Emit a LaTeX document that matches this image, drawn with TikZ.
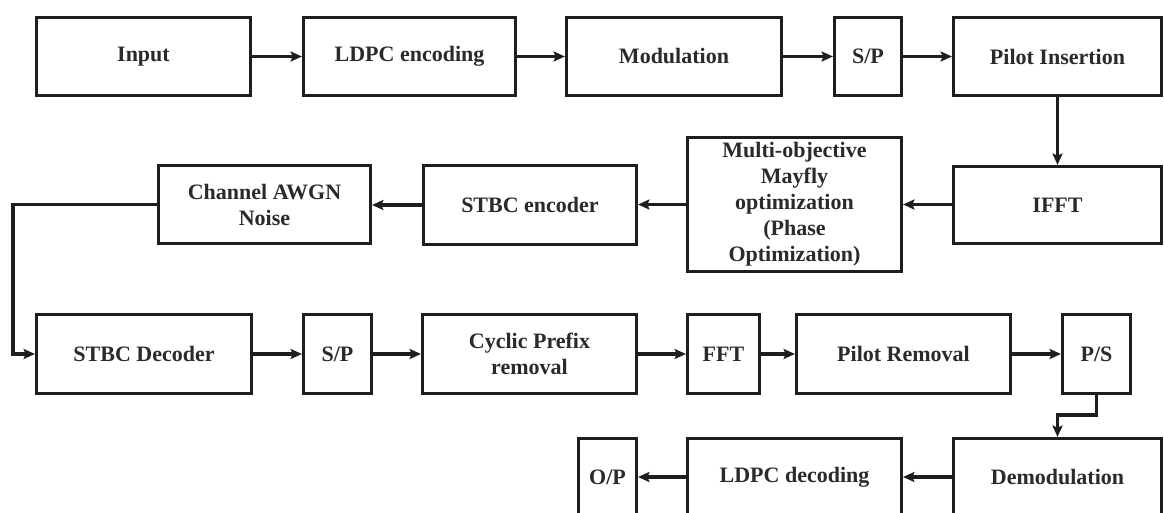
\documentclass[tikz,border=0pt]{standalone}
\usepackage{fontspec}
\setmainfont{Liberation Serif}
\usetikzlibrary{arrows.meta}
\definecolor{ink}{HTML}{1E1E1E}
\definecolor{txt}{HTML}{2A2A2A}
% blocks given by pixel corners: name, x1, y1, x2, y2, text
\newcommand\blk[6]{%
  \pgfmathsetmacro\bcx{(#2+#4)/2}%
  \pgfmathsetmacro\bcy{(#3+#5)/2}%
  \pgfmathsetmacro\bwd{(#4-#2)*0.75-2.2}%
  \pgfmathsetmacro\bht{(#5-#3)*0.75-2.2}%
  \node[blkbox, minimum width=\bwd pt, minimum height=\bht pt] (#1) at (\bcx,\bcy) {#6};}
\begin{document}
\begin{tikzpicture}[x=0.75pt, y=-0.75pt,
  blkbox/.style={draw=ink, line width=2.3pt, inner sep=0pt, align=center,
    text=txt, font=\fontsize{16.5}{19.5}\selectfont\bfseries},
  arr/.style={draw=ink, line width=2.4pt, -{Stealth[length=8.5pt,width=7.5pt,inset=1.5pt]}}]
\useasboundingbox (0,0) rectangle (1164,513);
\clip (0,0) rectangle (1164,513);
\fill[white] (0,0) rectangle (1164,513);

% transmitter chain
\blk{inp}{35}{16}{252}{97}{Input}
\blk{ldpce}{302}{16}{517}{97}{LDPC encoding}
\blk{mod}{565}{16}{783}{97}{Modulation}
\blk{sp1}{833}{16}{903}{97}{S/P}
\blk{pins}{952}{16}{1163}{97}{Pilot Insertion}

\blk{ifft}{952}{165}{1163}{245}{IFFT}
\blk{mmo}{686}{136}{903}{273}{Multi-objective\\Mayfly\\optimization\\(Phase\\Optimization)}
\blk{stbce}{422}{164}{638}{246}{STBC encoder}
\blk{chan}{157}{164}{372}{245}{Channel AWGN\\Noise}

% receiver chain
\blk{stbcd}{35}{313}{253}{395}{STBC Decoder}
\blk{sp2}{302}{313}{373}{395}{S/P}
\blk{cpr}{421}{313}{638}{395}{Cyclic Prefix\\removal}
\blk{fft}{686}{313}{761}{395}{FFT}
\blk{prem}{795}{313}{1012}{395}{Pilot Removal}
\blk{ps}{1061}{313}{1132}{395}{P/S}

\blk{op}{577}{437}{638}{517}{O/P}
\blk{ldpcd}{686}{437}{903}{517}{LDPC decoding}
\blk{demod}{952}{437}{1163}{517}{Demodulation}

% fixed anchor for the left-hand detour
\coordinate (leftrail) at (13,0);

% connectors
\draw[arr] (inp) -- (ldpce);
\draw[arr] (ldpce) -- (mod);
\draw[arr] (mod) -- (sp1);
\draw[arr] (sp1) -- (pins);
\draw[arr] (pins) -- (ifft);
\draw[arr] (ifft.west |- mmo.east) -- (mmo.east);
\draw[arr] (mmo.west) -- (stbce.east |- mmo.west);
\draw[arr] (stbce.west) -- (chan.east |- stbce.west);
\draw[arr, line join=miter] (chan.west) -- (chan.west -| leftrail) |- (stbcd.west);
\draw[arr] (stbcd) -- (sp2);
\draw[arr] (sp2) -- (cpr);
\draw[arr] (cpr) -- (fft);
\draw[arr] (fft) -- (prem);
\draw[arr] (prem) -- (ps);
\draw[arr, line join=miter] (ps.south) -- ++(0,20) -| (demod.north);
\draw[arr] (demod) -- (ldpcd);
\draw[arr] (ldpcd) -- (op);
\end{tikzpicture}
\end{document}
